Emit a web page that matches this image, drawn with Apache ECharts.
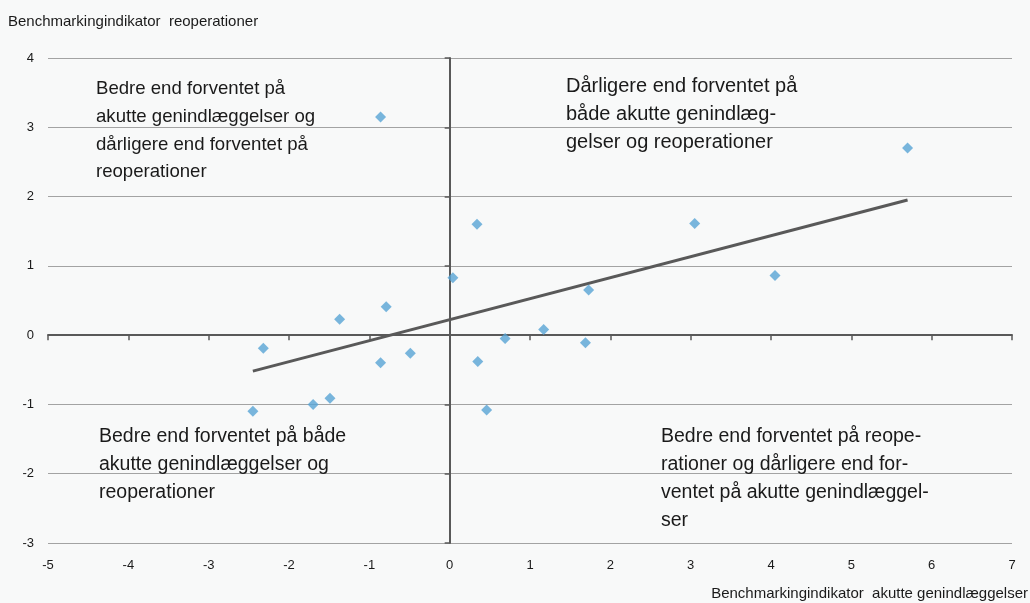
<!DOCTYPE html>
<html>
<head>
<meta charset="utf-8">
<script src="https://cdn.jsdelivr.net/npm/echarts@6/dist/echarts.min.js"></script>
<style>
html,body{margin:0;padding:0;background:#f8f9f9;}
#c{width:1030px;height:603px;}
</style>
</head>
<body>
<div id="c"></div>
<script>
// ---- data ----
const xValues = [-0.86, 5.70, 0.34, 3.05, 0.04, 4.05, 1.73, -0.79, -1.37, 1.17, 0.69, 1.69, -2.32, -0.49, -0.86, 0.35, -1.49, -1.70, -2.45, 0.46];
const yValues = [3.15, 2.70, 1.60, 1.61, 0.83, 0.86, 0.65, 0.41, 0.23, 0.08, -0.05, -0.11, -0.19, -0.26, -0.40, -0.38, -0.91, -1.00, -1.10, -1.08];
const trendX = [-2.45, 5.70];
const trendY = [-0.52, 1.95];
const xTickMin = -5, xTickMax = 7;
const yTickMin = -3, yTickMax = 4;
const yAxisTitle = 'Benchmarkingindikator  reoperationer';
const xAxisTitle = 'Benchmarkingindikator  akutte genindlæggelser';
const quadrantTexts = [
  'Bedre end forventet på\nakutte genindlæggelser og\ndårligere end forventet på\nreoperationer',
  'Dårligere end forventet på\nbåde akutte genindlæg-\ngelser og reoperationer',
  'Bedre end forventet på både\nakutte genindlæggelser og\nreoperationer',
  'Bedre end forventet på reope-\nrationer og dårligere end for-\nventet på akutte genindlæggel-\nser'
];

const FONT = '"Liberation Sans", Arial, Helvetica, sans-serif';
const DARK = '#595959';
const TEXT = '#1a1a1a';

const points = xValues.map((x, i) => [x, yValues[i]]);
const trend = trendX.map((x, i) => [x, trendY[i]]);

const chart = echarts.init(document.getElementById('c'), null, {renderer: 'canvas'});

const qPos = [[96, 75], [566, 73], [99, 423], [661, 423]];
const qSize = [18.6, 20, 19.5, 19.5];
const graphics = quadrantTexts.map((t, i) => ({
  type: 'text', x: qPos[i][0], y: qPos[i][1], z: 10,
  style: {text: t, fontSize: qSize[i], fontFamily: FONT, fill: TEXT, lineHeight: 27.8, align: 'left', verticalAlign: 'top'}
}));
graphics.push({type: 'text', x: 8, y: 21.5, z: 10,
  style: {text: yAxisTitle, fontSize: 15, fontFamily: FONT, fill: TEXT, align: 'left', verticalAlign: 'middle'}});
graphics.push({type: 'text', x: 1028, y: 594, z: 10,
  style: {text: xAxisTitle, fontSize: 15, fontFamily: FONT, fill: TEXT, align: 'right', verticalAlign: 'middle'}});

chart.setOption({
  backgroundColor: '#f8f9f9',
  animation: false,
  textStyle: {fontFamily: FONT},
  grid: {left: 48, right: 18, top: 58, bottom: 60, containLabel: false},
  xAxis: [
    {type: 'value', min: xTickMin, max: xTickMax, interval: 1, position: 'bottom',
     axisLine: {show: false, onZero: false}, axisTick: {show: false}, splitLine: {show: false},
     axisLabel: {fontSize: 13, color: TEXT, margin: 16, fontFamily: FONT}},
    {type: 'value', min: xTickMin, max: xTickMax, interval: 1, position: 'bottom',
     axisLine: {show: true, onZero: true, onZeroAxisIndex: 0, lineStyle: {color: DARK, width: 2}},
     axisTick: {show: true, length: 5, lineStyle: {color: DARK, width: 1.5}},
     axisLabel: {show: false}, splitLine: {show: false}}
  ],
  yAxis: [
    {type: 'value', min: yTickMin, max: yTickMax, interval: 1, position: 'left',
     axisLine: {show: false, onZero: false}, axisTick: {show: false},
     splitLine: {show: true, lineStyle: {color: '#a3a3a3', width: 1}},
     axisLabel: {fontSize: 13, color: TEXT, margin: 14, fontFamily: FONT}},
    {type: 'value', min: yTickMin, max: yTickMax, interval: 1, position: 'left',
     axisLine: {show: true, onZero: true, onZeroAxisIndex: 0, lineStyle: {color: DARK, width: 2}},
     axisTick: {show: true, length: 5, lineStyle: {color: DARK, width: 1.5}},
     axisLabel: {show: false}, splitLine: {show: false}}
  ],
  series: [
    {type: 'line', xAxisIndex: 0, yAxisIndex: 0, data: trend, symbol: 'none', z: 3,
     lineStyle: {color: DARK, width: 3}, silent: true},
    {type: 'scatter', xAxisIndex: 0, yAxisIndex: 0, data: points, symbol: 'diamond', symbolSize: 11, z: 4,
     itemStyle: {color: '#58a4d5'}}
  ],
  graphic: graphics
});
</script>
</body>
</html>
